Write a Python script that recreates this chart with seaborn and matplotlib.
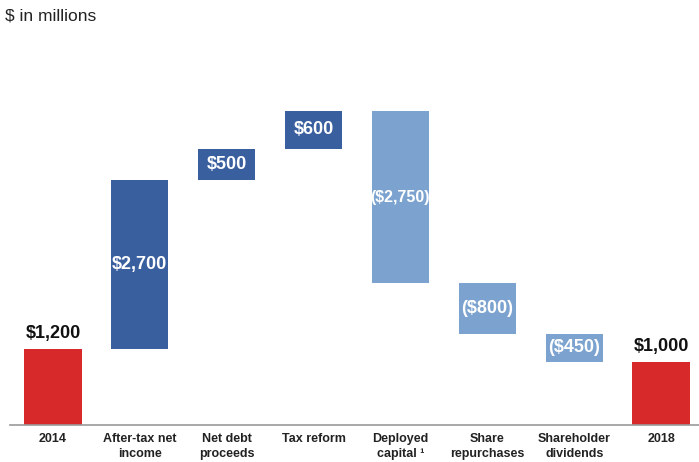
import matplotlib
matplotlib.use("Agg")
import matplotlib.pyplot as plt
import seaborn as sns
import numpy as np
import pandas as pd

categories = ["2014", "After-tax net\nincome", "Net debt\nproceeds", "Tax reform",
              "Deployed\ncapital \u00b9", "Share\nrepurchases", "Shareholder\ndividends", "2018"]
changes = [1200, 2700, 500, 600, -2750, -800, -450, 1000]
kinds = ["total", "up", "up", "up", "down", "down", "down", "total"]
labels = ["$1,200", "$2,700", "$500", "$600", "($2,750)", "($800)", "($450)", "$1,000"]

kind_colors = {"total": "#D7282A", "up": "#3A5F9E", "down": "#7CA3CF"}

# Waterfall geometry: each step floats on the running total
bottoms, heights = [], []
running = 0
for kind, v in zip(kinds, changes):
    if kind == "total":
        bottoms.append(0)
        heights.append(v)
        running = v
    elif v >= 0:
        bottoms.append(running)
        heights.append(v)
        running += v
    else:
        running += v
        bottoms.append(running)
        heights.append(-v)

df = pd.DataFrame({"category": categories, "height": heights, "bottom": bottoms, "kind": kinds})

sns.set_style("white")
plt.rcParams["font.family"] = ["Liberation Sans", "DejaVu Sans"]

fig = plt.figure(figsize=(6.99, 4.62), dpi=100)
ax = fig.add_axes([9.5 / 699, 37.5 / 462, 695 / 699, 345 / 462])

sns.barplot(data=df, x="category", y="height", bottom=df["bottom"].values,
            color="#3A5F9E", width=0.66, ax=ax, linewidth=0, saturation=1)
for patch, kind in zip(ax.patches, kinds):
    patch.set_facecolor(kind_colors[kind])

ax.set_xlim(-0.5, len(categories) - 0.5)
ax.set_ylim(0, 5500)

for i, (kind, b, h, lab) in enumerate(zip(kinds, bottoms, heights, labels)):
    if kind == "total":
        ax.text(i, b + h + 110, lab, ha="center", va="bottom", fontsize=13,
                fontweight="bold", color="#111111")
    else:
        ax.text(i, b + h / 2, lab, ha="center", va="center",
                fontsize=13 if len(lab) < 8 else 11.5, fontweight="bold", color="white")

ax.set_xlabel("")
ax.set_ylabel("")
ax.set_yticks([])
ax.set_xticks(range(len(categories)))
ax.set_xticklabels(categories, fontsize=9, fontweight="bold", color="#222222", linespacing=1.3)
ax.tick_params(axis="x", which="major", length=0, pad=6)
ax.set_xticks(np.arange(-0.5, len(categories), 1), minor=True)
ax.tick_params(axis="x", which="minor", length=4, width=1, color="#999999", direction="inout")

for side in ["top", "right", "left"]:
    ax.spines[side].set_visible(False)
ax.spines["bottom"].set_color("#999999")
ax.spines["bottom"].set_linewidth(1.2)

fig.text(5 / 699, 1 - 16 / 462, "$ in millions", fontsize=12.5, color="#222222", va="center")

fig.savefig("out.png", dpi=100, facecolor="white")
